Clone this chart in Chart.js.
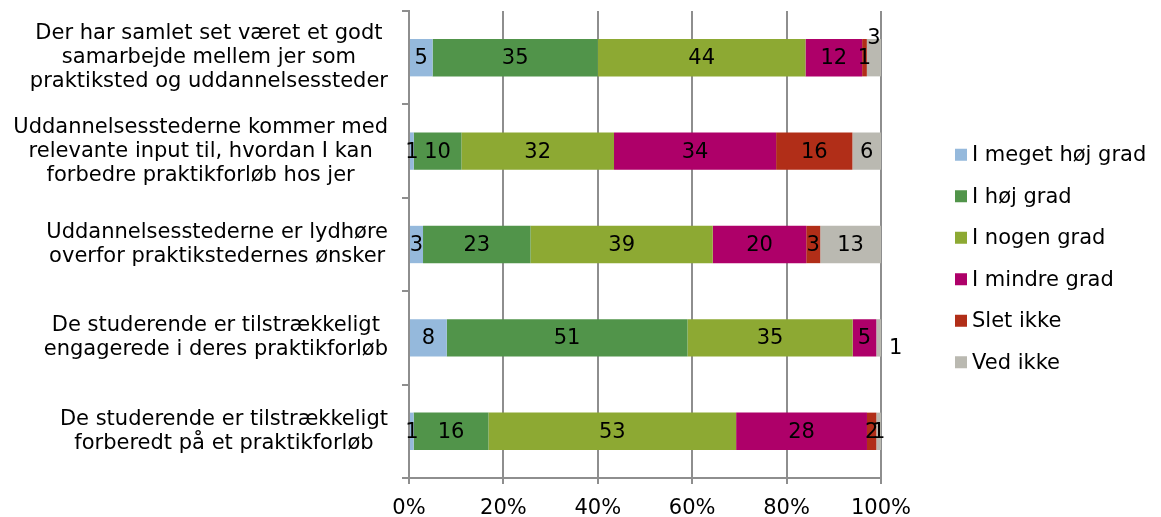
<!DOCTYPE html>
<html>
<head>
<meta charset="utf-8">
<script src="https://cdn.jsdelivr.net/npm/chart.js@4/dist/chart.umd.min.js"></script>
<style>
html,body{margin:0;padding:0;background:#fff;}
#c{display:block;}
</style>
</head>
<body>
<canvas id="c" width="1161" height="517"></canvas>
<script>
const categories = [
  ["Der har samlet set været et godt", "samarbejde mellem jer som", "praktiksted og uddannelsessteder"],
  ["Uddannelsesstederne kommer med", "relevante input til, hvordan I kan", "forbedre praktikforløb hos jer"],
  ["Uddannelsesstederne er lydhøre", "overfor praktikstedernes ønsker"],
  ["De studerende er tilstrækkeligt", "engagerede i deres praktikforløb"],
  ["De studerende er tilstrækkeligt", "forberedt på et praktikforløb"]
];
const seriesNames = ["I meget høj grad", "I høj grad", "I nogen grad", "I mindre grad", "Slet ikke", "Ved ikke"];
const iMegetHoejGrad = [5, 1, 3, 8, 1];
const iHoejGrad = [35, 10, 23, 51, 16];
const iNogenGrad = [44, 32, 39, 35, 53];
const iMindreGrad = [12, 34, 20, 5, 28];
const sletIkke = [1, 16, 3, 0, 2];
const vedIkke = [3, 6, 13, 1, 1];
const xTickLabels = ["0%", "20%", "40%", "60%", "80%", "100%"];

const seriesValues = [iMegetHoejGrad, iHoejGrad, iNogenGrad, iMindreGrad, sletIkke, vedIkke];
const colors = ["#95B9DC", "#51944A", "#8DA933", "#AE0069", "#B12E18", "#BAB9B1"];
const totals = categories.map((_, i) => seriesValues.reduce((s, arr) => s + arr[i], 0));

const FONT = '"DejaVu Sans", Verdana, sans-serif';
const FS = 21;
Chart.defaults.font.family = FONT;
Chart.defaults.font.size = FS;
Chart.defaults.color = "#000";

const GRID = "#8E8E8E";
// manual label nudges (dataset index, category index) -> [dx, dy]
const labelNudge = { "5-0": [0, -20], "5-3": [17, 10] };

const plugin = {
  id: "custom",
  afterDatasetsDraw(chart) {
    const ctx = chart.ctx;
    ctx.save();
    ctx.font = FS + "px " + FONT;
    ctx.fillStyle = "#000";
    ctx.textAlign = "center";
    ctx.textBaseline = "middle";
    chart.data.datasets.forEach((ds, di) => {
      const meta = chart.getDatasetMeta(di);
      meta.data.forEach((bar, i) => {
        const v = ds.raw[i];
        if (!v) return;
        const n = labelNudge[di + "-" + i] || [0, 0];
        ctx.fillText(String(v), (bar.x + bar.base) / 2 + n[0], bar.y + 1 + n[1]);
      });
    });
    ctx.restore();
  },
  afterDraw(chart) {
    const ctx = chart.ctx;
    const ys = chart.scales.y;
    ctx.save();
    ctx.font = FS + "px " + FONT;
    ctx.fillStyle = "#000";
    ctx.textAlign = "center";
    ctx.textBaseline = "middle";
    const right = chart.chartArea.left - 21;
    const lh = 24;
    categories.forEach((lines, i) => {
      const w = Math.max(...lines.map(l => ctx.measureText(l).width));
      const cx = right - w / 2;
      const cy = ys.getPixelForValue(i);
      lines.forEach((l, k) => {
        ctx.fillText(l, cx, cy + (k - (lines.length - 1) / 2) * lh);
      });
    });
    // legend
    const step = 41.5;
    const y0 = chart.height / 2 - step * (seriesNames.length - 1) / 2;
    ctx.textAlign = "left";
    chart.data.datasets.forEach((ds, k) => {
      const y = y0 + k * step;
      ctx.fillStyle = ds.backgroundColor;
      ctx.fillRect(955, y - 6, 12, 12);
      ctx.fillStyle = "#000";
      ctx.fillText(ds.label, 972, y + 1);
    });
    ctx.restore();
  }
};

new Chart(document.getElementById("c"), {
  type: "bar",
  data: {
    labels: categories,
    datasets: seriesNames.map((name, k) => ({
      label: name,
      raw: seriesValues[k],
      data: seriesValues[k].map((v, i) => v / totals[i] * 100),
      backgroundColor: colors[k],
      borderWidth: 0,
      barPercentage: 0.8,
      categoryPercentage: 0.5
    }))
  },
  options: {
    indexAxis: "y",
    responsive: false,
    animation: false,
    devicePixelRatio: 1,
    layout: { padding: { top: 11, right: 280, left: 0, bottom: 0 } },
    plugins: { legend: { display: false }, tooltip: { enabled: false } },
    scales: {
      x: {
        stacked: true,
        min: 0,
        max: 100,
        ticks: {
          stepSize: 20,
          padding: 12,
          color: "#000",
          font: { size: FS },
          maxRotation: 0,
          autoSkip: false,
          callback: (v, idx) => xTickLabels[idx]
        },
        grid: { color: GRID, lineWidth: 2, tickLength: 6 },
        border: { color: GRID, width: 2 },
        afterFit: s => { s.height = 39; }
      },
      y: {
        stacked: true,
        ticks: { display: false },
        grid: { offset: true, drawOnChartArea: false, color: GRID, lineWidth: 2, tickLength: 7 },
        border: { color: GRID, width: 2 },
        afterFit: s => { s.width = 409; }
      }
    }
  },
  plugins: [plugin]
});
</script>
</body>
</html>
